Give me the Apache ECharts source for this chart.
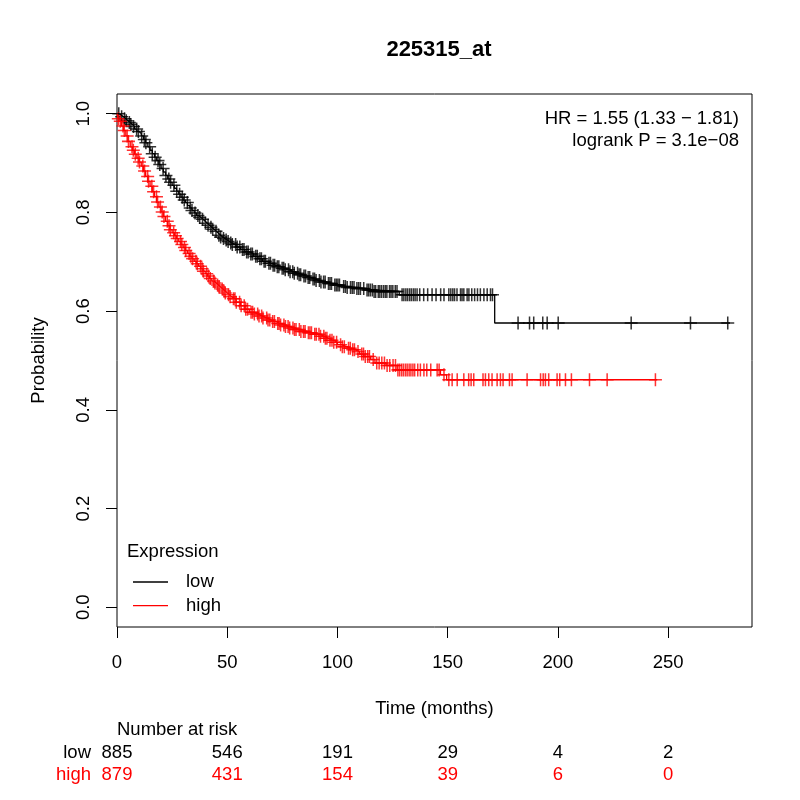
<!DOCTYPE html>
<html>
<head>
<meta charset="utf-8">
<script src="https://cdn.jsdelivr.net/npm/echarts@6/dist/echarts.min.js"></script>
<style>
html, body { margin: 0; padding: 0; background: #fff; }
#main { width: 800px; height: 800px; }
</style>
</head>
<body>
<div id="main"></div>
<script>
// Kaplan-Meier steps [months, survival]
var lowCurve = [
    [0, 1.0], [1, 0.997], [2, 0.994], [3, 0.99], [4, 0.986], [5, 0.982], [6, 0.978], [7, 0.974],
    [8, 0.969], [9, 0.964], [10, 0.96], [11, 0.955], [12, 0.948], [13, 0.941], [14, 0.933],
    [15, 0.926], [16, 0.919], [17, 0.912], [18, 0.905], [19, 0.897], [20, 0.889], [21, 0.882],
    [22, 0.875], [23, 0.868], [24, 0.861], [25, 0.855], [26, 0.849], [27, 0.843], [28, 0.837],
    [29, 0.831], [30, 0.825], [31, 0.82], [32, 0.814], [33, 0.809], [34, 0.804], [35, 0.799],
    [36, 0.794], [37, 0.79], [38, 0.786], [39, 0.782], [40, 0.778], [41, 0.774], [42, 0.77],
    [43, 0.766], [44, 0.762], [45, 0.758], [46, 0.754], [47, 0.75], [48, 0.747], [49, 0.744],
    [50, 0.741], [51, 0.738], [52, 0.735], [54, 0.73], [56, 0.725], [58, 0.72], [60, 0.716],
    [62, 0.711], [64, 0.706], [66, 0.701], [68, 0.697], [70, 0.693], [72, 0.69], [74, 0.687],
    [76, 0.684], [78, 0.68], [80, 0.677], [82, 0.674], [84, 0.671], [86, 0.668], [88, 0.665],
    [90, 0.662], [92, 0.659], [95, 0.656], [98, 0.653], [101, 0.65], [104, 0.648], [108, 0.646],
    [113, 0.643], [116, 0.64], [128, 0.633], [171.3, 0.576], [278, 0.576]
];
var highCurve = [
    [0, 1.0], [0.5, 0.99], [1, 0.985], [2, 0.975], [3, 0.966], [4, 0.955], [5, 0.944], [6, 0.933],
    [7, 0.926], [8, 0.918], [9, 0.91], [10, 0.902], [11, 0.894], [12, 0.884], [13, 0.873],
    [14, 0.863], [15, 0.853], [16, 0.842], [17, 0.832], [18, 0.821], [19, 0.811], [20, 0.801],
    [21, 0.792], [22, 0.782], [23, 0.773], [24, 0.765], [25, 0.759], [26, 0.753], [27, 0.747],
    [28, 0.741], [29, 0.735], [30, 0.729], [31, 0.723], [32, 0.717], [33, 0.711], [34, 0.706],
    [35, 0.701], [36, 0.696], [37, 0.691], [38, 0.686], [39, 0.681], [40, 0.676], [41, 0.671],
    [42, 0.666], [43, 0.661], [44, 0.657], [45, 0.653], [46, 0.649], [47, 0.645], [48, 0.641],
    [49, 0.637], [50, 0.633], [51, 0.629], [52, 0.625], [54, 0.618], [56, 0.611], [58, 0.604],
    [60, 0.598], [62, 0.594], [64, 0.59], [66, 0.586], [68, 0.582], [70, 0.579], [72, 0.575],
    [74, 0.572], [76, 0.569], [78, 0.566], [80, 0.563], [83, 0.559], [86, 0.556], [89, 0.553],
    [92, 0.549], [94, 0.545], [96, 0.541], [98, 0.537], [100, 0.532], [102, 0.528], [104, 0.525],
    [106, 0.522], [108, 0.518], [110, 0.513], [112, 0.508], [115, 0.502], [117, 0.495],
    [122, 0.49], [127, 0.481], [146.7, 0.471], [149.5, 0.461], [245, 0.461]
];
// censoring times (months)
var lowCensor = [
    0.8, 2.1, 3.4, 4.2, 5.6, 6.3, 7.5, 8.9, 9.7, 11.2, 12.4, 13.1, 14.8, 16.0, 17.3, 18.6, 19.4,
    20.9, 22.2, 23.5, 24.3, 25.8, 27.1, 28.4, 29.6, 30.5, 31.9, 33.2, 34.0, 35.4, 36.7, 37.5,
    38.8, 40.1, 41.3, 42.6, 43.4, 44.9, 46.2, 47.0, 48.3, 49.5,
    50.4, 51.6, 52.3, 53.8, 54.5, 55.7, 56.9, 57.6, 58.8, 59.5, 60.7, 61.4, 62.9, 63.6, 64.8,
    65.5, 66.7, 67.3, 68.9, 69.6, 70.8, 71.5, 72.7, 73.4, 74.9, 75.6, 76.3, 77.8, 78.5, 79.7,
    80.4, 81.9, 82.6, 83.3, 84.8, 85.5, 86.7, 87.4, 88.9, 89.6, 90.3, 91.8, 92.5, 93.7, 94.4,
    95.9, 96.6, 97.3, 98.8, 99.5,
    100.2, 100.9, 102.8, 103.6, 104.4, 105.9, 106.7, 107.5, 108.8, 109.6, 110.4, 111.9, 113.4,
    114.1, 114.9, 115.8, 116.6, 117.3, 118.5, 119.2, 120.0, 120.9, 121.7, 122.4, 123.6, 124.3,
    125.1, 126.2, 127.0, 129.3, 130.1, 131.0, 131.8, 132.7, 133.5, 134.4, 135.2, 136.1, 137.3,
    139.1, 140.9, 142.9, 144.7, 146.8, 148.3, 150.5, 151.4, 152.3, 153.1, 154.2, 155.8, 156.5,
    157.3, 158.8, 159.6, 160.9, 162.2, 163.5, 164.8, 166.4, 167.9, 169.4, 170.3,
    181.9, 187.1, 189.0, 193.1, 195.1, 200.1, 233.2, 260.1, 277.0
];
var highCensor = [
    0.6, 1.5, 2.7, 3.3, 4.6, 5.2, 6.8, 7.4, 8.3, 9.6, 10.2, 11.7, 12.5, 13.9, 14.3, 15.8, 16.6,
    17.9, 18.4, 19.7, 20.5, 21.3, 22.8, 23.6, 24.2, 25.7, 26.5, 27.3, 28.8, 29.4, 30.6, 31.2,
    32.7, 33.5, 34.3, 35.8, 36.4, 37.9, 38.6, 39.2, 40.7, 41.5, 42.3, 43.8, 44.4, 45.6, 46.3,
    47.7, 48.5, 49.1, 50.6, 51.3, 52.8, 53.5, 54.1, 55.6, 56.3, 57.7, 58.4, 59.2, 60.8, 61.5,
    62.3, 63.8, 64.4, 65.6, 66.2, 67.9, 68.5, 69.3, 70.6, 71.4, 72.9, 73.5, 74.2, 75.7, 76.4,
    77.6, 78.3, 79.8, 80.5, 81.2, 82.7, 83.4, 84.6, 85.3, 86.8, 87.5, 88.2, 89.7, 90.4, 91.6,
    92.3, 93.8, 94.5, 95.2, 96.6, 97.5, 98.3, 99.6, 101.4, 102.2, 103.1, 105.0, 105.8, 106.9,
    107.7, 109.3, 111.0, 111.8, 112.6, 113.7, 114.5, 116.2, 117.8, 118.9, 120.1, 121.3, 122.5,
    123.7, 125.2, 126.3, 127.4, 128.2, 129.1, 129.9, 130.8, 131.6, 132.5, 133.3, 134.2, 135.0,
    136.4, 137.6, 139.2, 140.5, 142.3, 145.2, 146.1, 148.3,
    150.5, 152.0, 154.3, 157.3, 159.5, 160.6, 161.8, 166.0, 167.1, 168.6, 170.1, 172.4, 173.9,
    175.1, 178.0, 179.2, 186.0, 192.1, 193.3, 194.3, 195.8, 199.6, 200.8, 203.4, 206.1, 214.3,
    222.3, 244.2
];
var xTicks = [0, 50, 100, 150, 200, 250];
var yTicks = [0, 0.2, 0.4, 0.6, 0.8, 1.0];
var riskTimes = [0, 50, 100, 150, 200, 250];
var riskLow = [885, 546, 191, 29, 4, 2];
var riskHigh = [879, 431, 154, 39, 6, 0];
var statLines = ['HR = 1.55 (1.33 \u2212 1.81)', 'logrank P = 3.1e\u221208'];

var FONT = '"Liberation Sans", Arial, Helvetica, sans-serif';
var RED = '#ff0000';
var PLUS = 'path://M5.3,0H6.7V12H5.3Z M0,5.3H12V6.7H0Z';

// survival value of a step curve at time t
function survAt(curve, t) {
    var s = curve[0][1];
    for (var i = 0; i < curve.length; i++) {
        if (curve[i][0] <= t) s = curve[i][1];
    }
    return s;
}
function censorPoints(curve, times) {
    return times.map(function (t) { return [t, survAt(curve, t)]; });
}

var myChart = echarts.init(document.getElementById('main'));
var option = {
    backgroundColor: '#fff',
    animation: false,
    textStyle: { fontFamily: FONT },
    title: {
        text: '225315_at',
        left: 434, top: 34, textAlign: 'center',
        textStyle: { fontFamily: FONT, fontSize: 22, fontWeight: 'bold', color: '#000' }
    },
    grid: {
        left: 117, top: 94, width: 635, height: 533,
        show: true, borderColor: '#000', borderWidth: 1, backgroundColor: 'transparent'
    },
    legend: {
        orient: 'vertical', left: 128, top: 567.5,
        itemWidth: 35, itemHeight: 1.3, itemGap: 4.6, icon: 'rect',
        selectedMode: false,
        data: ['low', 'high'],
        textStyle: { fontFamily: FONT, fontSize: 18.5, lineHeight: 18.5, color: '#000', padding: [0, 0, 0, 13] }
    },
    xAxis: {
        type: 'value', min: 0, max: 288,
        name: 'Time (months)', nameLocation: 'middle', nameGap: 72,
        nameTextStyle: { fontFamily: FONT, fontSize: 18.5, color: '#000' },
        axisLine: { show: false, onZero: false },
        axisTick: { show: true, inside: false, length: 11, customValues: xTicks, lineStyle: { color: '#000' } },
        axisLabel: { customValues: xTicks, margin: 26, fontFamily: FONT, fontSize: 18.5, color: '#000' },
        splitLine: { show: false }
    },
    yAxis: {
        type: 'value', min: -0.04, max: 1.04,
        name: 'Probability', nameLocation: 'middle', nameGap: 69, nameRotate: 90,
        nameTextStyle: { fontFamily: FONT, fontSize: 18.5, color: '#000' },
        axisLine: { show: false, onZero: false },
        axisTick: { show: true, inside: false, length: 11, customValues: yTicks, lineStyle: { color: '#000' } },
        axisLabel: {
            customValues: yTicks, rotate: 90, margin: 24, fontFamily: FONT, fontSize: 18.5, color: '#000',
            formatter: function (v) { return v.toFixed(1); }
        },
        splitLine: { show: false }
    },
    series: [
        {
            name: 'low', type: 'line', step: 'end', data: lowCurve,
            showSymbol: false, color: '#000', lineStyle: { width: 1.3, color: '#000' }
        },
        {
            name: 'high', type: 'line', step: 'end', data: highCurve,
            showSymbol: false, color: RED, lineStyle: { width: 1.3, color: RED }
        },
        {
            name: 'low censored', type: 'scatter', data: censorPoints(lowCurve, lowCensor),
            symbol: PLUS, symbolSize: 13, itemStyle: { color: '#000' }
        },
        {
            name: 'high censored', type: 'scatter', data: censorPoints(highCurve, highCensor),
            symbol: PLUS, symbolSize: 13, itemStyle: { color: RED }
        }
    ]
};
myChart.setOption(option);

// text outside the axes: stats, legend title, number-at-risk table
var txt = function (s, x, y, align, color) {
    return {
        type: 'text', x: x, y: y, silent: true,
        style: { text: s, font: '18.5px ' + FONT, fill: color || '#000', align: align, verticalAlign: 'middle' }
    };
};
var g = [];
g.push(txt(statLines[0], 739, 119, 'right'));
g.push(txt(statLines[1], 739, 141, 'right'));
g.push(txt('Expression', 127, 552, 'left'));
g.push(txt('Number at risk', 117, 730, 'left'));
g.push(txt('low', 91, 753, 'right'));
g.push(txt('high', 91, 775, 'right', RED));
riskTimes.forEach(function (t, i) {
    var px = myChart.convertToPixel({ xAxisIndex: 0 }, t);
    g.push(txt(String(riskLow[i]), px, 753, 'center'));
    g.push(txt(String(riskHigh[i]), px, 775, 'center', RED));
});
myChart.setOption({ graphic: g });
</script>
</body>
</html>
